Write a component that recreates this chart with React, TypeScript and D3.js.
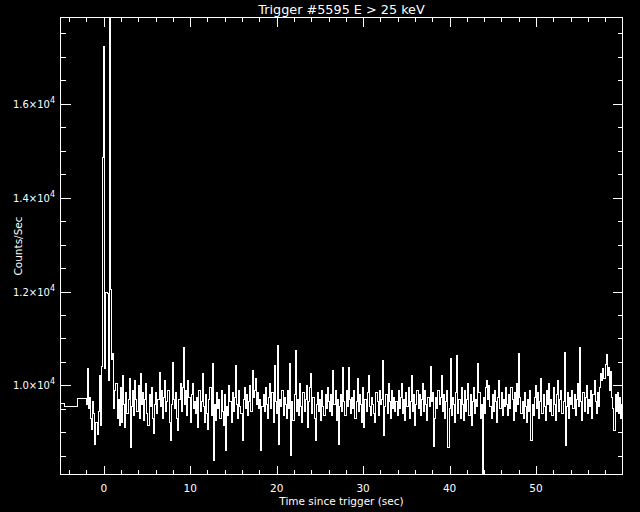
import React, { useEffect, useRef } from 'react';
import * as d3 from 'd3';

const title = 'Trigger #5595 E > 25 keV';
const xTitle = 'Time since trigger (sec)';
const yTitle = 'Counts/Sec';

// coarse pre-trigger bins (left edges) and rates
const preEdges = [-5, -4.5, -3.0];
const preCounts = [9620, 9545, 9730];

// fine bins from here on
const binStart = -2.048;
const binWidth = 0.128;
const counts = [
  9600, 10350, 9500, 9750, 9300, 9050, 9650, 9400, 8750, 9200, 8950, 9450, 10200, 9150, 10400, 14850, 17220, 10350, 11980, 11950,
  10100, 17840, 12050, 10550, 10680, 9500, 9900, 10050, 9300, 9700, 9150, 9950, 9200, 10200, 9600, 9100, 9850, 9400, 9700, 10150,
  8670, 9550, 9900, 9350, 10100, 9700, 9450, 10000, 9300, 10250, 9600, 9850, 9250, 9700, 10050, 9400, 9150, 9800, 9550, 9950,
  9300, 8970, 9600, 9850, 9400, 9700, 10270, 9550, 9900, 9300, 9750, 10100, 9450, 9650, 9900, 9200, 8820, 9600, 10480, 9700,
  9500, 9850, 9300, 9030, 9700, 10050, 9450, 9950, 10800, 9600, 9900, 9350, 10100, 9750, 9200, 9800, 10050, 9500, 9650, 9400,
  9750, 9100, 9900, 9450, 9650, 10250, 9550, 9200, 9800, 9400, 9050, 9700, 9950, 9350, 10460, 8390, 9600, 9250, 9850, 9500,
  9700, 9300, 9900, 9450, 9150, 9800, 8610, 9550, 9350, 10000, 9650, 9200, 9850, 9450, 9750, 10420, 9600, 9300, 9900, 9550,
  9400, 8820, 9700, 9950, 9500, 9800, 9350, 9650, 10000, 9450, 10310, 9750, 9900, 10150, 9600, 9850, 9500, 9700, 8610, 9550,
  9800, 9450, 9950, 9600, 9300, 9750, 10050, 9500, 9850, 9200, 10420, 9650, 9400, 10850, 8750, 9700, 9550, 9900, 9350, 9750,
  9600, 9300, 9900, 9500, 10460, 8500, 9650, 9250, 9800, 10740, 9450, 9700, 9350, 10050, 9550, 9200, 9850, 9450, 9700, 10000,
  9100, 9650, 9950, 10250, 9400, 9750, 9300, 8820, 9600, 9850, 9450, 9700, 9250, 9900, 9550, 9350, 9800, 9500, 9950, 9650,
  9450, 9800, 9350, 10310, 9600, 9900, 9250, 9700, 8750, 9550, 9800, 9450, 10380, 9650, 9350, 9900, 9550, 10380, 9700, 9400,
  9750, 9500, 9900, 9300, 9650, 10150, 9450, 9800, 9600, 9200, 9950, 9100, 9700, 9450, 9850, 10200, 9550, 9350, 9750, 9600,
  9400, 9200, 9850, 9650, 9350, 9900, 9600, 9700, 10530, 8930, 9550, 9800, 9400, 10050, 9650, 9300, 9900, 9500, 9750, 9450,
  9650, 9350, 9900, 9500, 9750, 10050, 9400, 9700, 9250, 9850, 9550, 9950, 9300, 9650, 10200, 9450, 9800, 9150, 9600, 9900,
  9500, 9800, 9350, 9700, 10050, 9450, 9900, 9600, 9250, 9750, 9550, 10400, 9650, 9850, 8700, 9300, 9750, 9500, 9900, 9600,
  9750, 10200, 9450, 9800, 9300, 9650, 9900, 8670, 9500, 10570, 9350, 9750, 9600, 9200, 9850, 10630, 9400, 9700, 9300, 9950,
  9600, 9250, 9900, 9450, 9700, 10050, 9350, 9800, 9150, 9650, 9950, 9400, 9700, 9550, 10460, 9850, 9300, 9600, 8100, 9750,
  9400, 9950, 10100, 9700, 10000, 9550, 9300, 9800, 9450, 9900, 9650, 9200, 9750, 10100, 9500, 9850, 9350, 9700, 9550, 9950,
  9600, 9350, 9800, 9500, 9950, 9700, 9250, 9850, 9450, 10050, 9600, 10680, 9750, 9400, 9650, 9300, 9850, 9550, 9200, 9700,
  9450, 9900, 8820, 9600, 9350, 9750, 10000, 9500, 9850, 9300, 9650, 10150, 9400, 9800, 9550, 9250, 9900, 9600, 10050, 9450,
  9700, 9350, 9950, 9600, 9250, 9800, 10100, 9450, 9700, 9900, 9400, 9650, 10700, 8710, 9550, 9850, 9300, 9750, 9600, 9900,
  9500, 9800, 9350, 9700, 10050, 9550, 10800, 9650, 9250, 9850, 9450, 9750, 10000, 9400, 9700, 9550, 9900, 9300, 9800, 10100,
  9650, 9400, 9850, 9550, 9950, 10250, 10100, 10350, 10150, 10450, 10650, 10200, 10380, 9900, 10300, 9750, 9500, 9030, 9800, 9450,
  9850, 9400, 9750, 9300, 9600,
];

const xDomain = [-5, 60];
const xMajor = [0, 10, 20, 30, 40, 50];
const xMinorStep = 2;
const yMajor = [10000, 12000, 14000, 16000];
const yMajorLabels = ['1.0', '1.2', '1.4', '1.6'];
const yMinorStep = 500;

const FONT = 'DejaVu Sans, Liberation Sans, sans-serif';

function LightCurve() {
  const ref = useRef<SVGSVGElement>(null);

  useEffect(() => {
    const width = 640, height = 512;
    const left = 60.5, right = 622.5, top = 17.5, bottom = 474.5;

    const svg = d3.select(ref.current);
    svg.selectAll('*').remove();

    svg.append('rect')
      .attr('width', width)
      .attr('height', height)
      .attr('fill', 'black');

    // histogram points (left edge, rate)
    var pts: [number, number][] = preEdges.map((e, i) => [e, preCounts[i]]);
    counts.forEach((c, i) => pts.push([binStart + i * binWidth, c]));
    pts.push([binStart + counts.length * binWidth, counts[counts.length - 1]]);

    const allCounts = preCounts.concat(counts);
    var x = d3.scaleLinear().domain(xDomain).range([left, right]);
    var y = d3.scaleLinear().domain(d3.extent(allCounts) as [number, number]).range([bottom, top]);

    svg.append('clipPath').attr('id', 'plot-clip')
      .append('rect')
      .attr('x', left).attr('y', top - 1)
      .attr('width', right - left).attr('height', bottom - top + 2);

    const line = d3.line<[number, number]>()
      .x(d => x(d[0]))
      .y(d => y(d[1]))
      .curve(d3.curveStepAfter);

    svg.append('path')
      .datum(pts)
      .attr('d', line)
      .attr('fill', 'none')
      .attr('stroke', 'white')
      .attr('stroke-width', 1)
      .attr('shape-rendering', 'crispEdges')
      .attr('clip-path', 'url(#plot-clip)');

    // frame
    svg.append('rect')
      .attr('x', left).attr('y', top)
      .attr('width', right - left).attr('height', bottom - top)
      .attr('fill', 'none')
      .attr('stroke', 'white')
      .attr('stroke-width', 1)
      .attr('shape-rendering', 'crispEdges');

    const ticks = svg.append('g')
      .attr('stroke', 'white')
      .attr('stroke-width', 1)
      .attr('shape-rendering', 'crispEdges');

    const xMinor = d3.range(-4, xDomain[1], xMinorStep).filter(v => !xMajor.includes(v));
    const xTicks = xMajor.map(v => ({ v, len: 9 })).concat(xMinor.map(v => ({ v, len: 4.5 })));
    xTicks.forEach(t => {
      const px = Math.round(x(t.v)) + 0.5;
      ticks.append('line').attr('x1', px).attr('x2', px).attr('y1', bottom).attr('y2', bottom - t.len);
      ticks.append('line').attr('x1', px).attr('x2', px).attr('y1', top).attr('y2', top + t.len);
    });

    const [y0, y1] = y.domain();
    const yMinor = d3.range(Math.ceil(y0 / yMinorStep) * yMinorStep, y1, yMinorStep).filter(v => !yMajor.includes(v));
    const yTicks = yMajor.map(v => ({ v, len: 10 })).concat(yMinor.map(v => ({ v, len: 5 })));
    yTicks.forEach(t => {
      const py = Math.round(y(t.v)) + 0.5;
      ticks.append('line').attr('x1', left).attr('x2', left + t.len).attr('y1', py).attr('y2', py);
      ticks.append('line').attr('x1', right).attr('x2', right - t.len).attr('y1', py).attr('y2', py);
    });

    const txt = svg.append('g')
      .attr('fill', 'white')
      .style('font-family', FONT);

    // x tick labels
    xMajor.forEach(v => {
      txt.append('text')
        .attr('x', x(v))
        .attr('y', 492)
        .attr('text-anchor', 'middle')
        .style('font-size', '10.5px')
        .text(String(v));
    });

    // y tick labels, 1.0x10^4 style
    yMajor.forEach((v, i) => {
      const t = txt.append('text')
        .attr('x', 55)
        .attr('y', y(v) + 4)
        .attr('text-anchor', 'end')
        .style('font-size', '10px');
      t.append('tspan').text(yMajorLabels[i] + '\u00d710');
      t.append('tspan').attr('dy', -5).style('font-size', '8px').text('4');
    });

    txt.append('text')
      .attr('x', (left + right) / 2)
      .attr('y', 505)
      .attr('text-anchor', 'middle')
      .style('font-size', '10.5px')
      .text(xTitle);

    txt.append('text')
      .attr('x', (left + right) / 2)
      .attr('y', 14)
      .attr('text-anchor', 'middle')
      .style('font-size', '12.8px')
      .text(title);

    txt.append('text')
      .attr('transform', 'translate(22,' + (top + bottom) / 2 + ') rotate(-90)')
      .attr('text-anchor', 'middle')
      .style('font-size', '10.5px')
      .text(yTitle);
  }, []);

  return (
    <svg ref={ref} width={640} height={512}
      style={{ position: 'absolute', left: 0, top: 0, display: 'block' }} />
  );
}

export default function App() {
  return <LightCurve />;
}
